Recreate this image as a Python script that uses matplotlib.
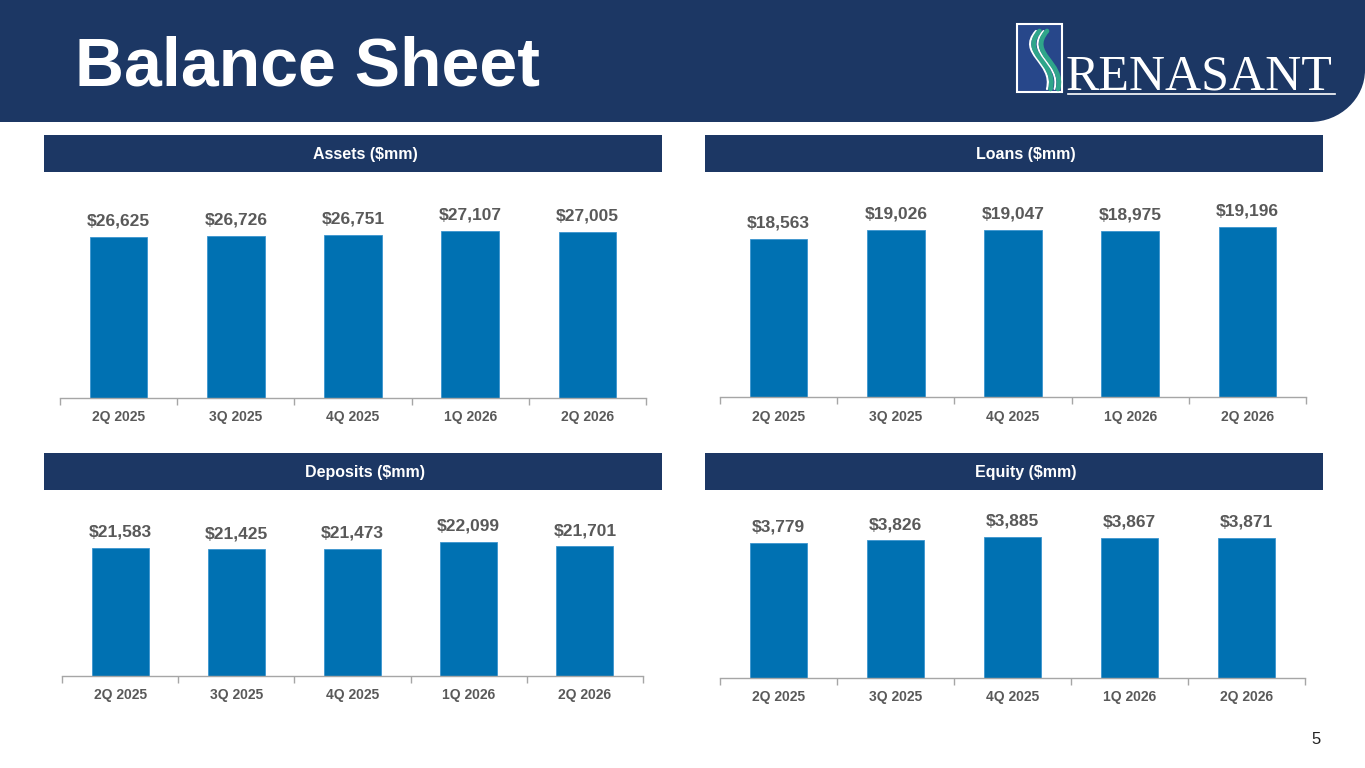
import matplotlib
matplotlib.use("Agg")
import matplotlib.pyplot as plt
from matplotlib.patches import Rectangle, PathPatch
from matplotlib.path import Path

plt.rcParams['font.family'] = ['Liberation Sans', 'DejaVu Sans']

# ---------------- data ----------------
quarters = ['2Q 2025', '3Q 2025', '4Q 2025', '1Q 2026', '2Q 2026']
assets = [26625, 26726, 26751, 27107, 27005]
loans = [18563, 19026, 19047, 18975, 19196]
deposits = [21583, 21425, 21473, 22099, 21701]
equity = [3779, 3826, 3885, 3867, 3871]

panel_titles = ['Assets ($mm)', 'Loans ($mm)', 'Deposits ($mm)', 'Equity ($mm)']
page_title = 'Balance Sheet'
brand = 'RENASANT'
page_number = '5'

NAVY = '#1C3764'
BAR = '#0071B2'
GRAY = '#595959'
AXIS = '#A6A6A6'

W, H = 1365, 768
fig = plt.figure(figsize=(W / 100, H / 100), dpi=100)
fig.patch.set_facecolor('white')

# ---------------- overlay for decorations (pixel coords) ----------------
ov = fig.add_axes([0, 0, 1, 1], zorder=0)
ov.set_xlim(0, W)
ov.set_ylim(H, 0)
ov.axis('off')

# header band with rounded lower-right corner
rx, ry = 55, 52
yb = 122
verts = [(0, 0), (W, 0), (W, yb - ry),
         (W, yb - ry + 0.55 * ry), (W - rx + 0.55 * rx, yb), (W - rx, yb),
         (0, yb), (0, 0)]
codes = [Path.MOVETO, Path.LINETO, Path.LINETO,
         Path.CURVE4, Path.CURVE4, Path.CURVE4,
         Path.LINETO, Path.CLOSEPOLY]
ov.add_patch(PathPatch(Path(verts, codes), facecolor=NAVY, edgecolor='none'))

ov.text(75, 68, page_title, color='white', fontsize=49, fontweight='bold',
        ha='left', va='center')

# logo box
ov.add_patch(Rectangle((1017, 24), 45, 68, facecolor='#27478A', edgecolor='white', lw=1.5))
def swoosh(dx, color, lw):
    v = [(1036 + dx, 31), (1016 + dx, 54), (1054 + dx, 62), (1047 + dx, 89)]
    c = [Path.MOVETO, Path.CURVE4, Path.CURVE4, Path.CURVE4]
    ov.add_patch(PathPatch(Path(v, c), facecolor='none', edgecolor=color, lw=lw,
                           capstyle='round'))
swoosh(0, 'white', 1.6)
swoosh(3.5, '#2FA58A', 3.4)
swoosh(7.5, 'white', 1.4)
swoosh(11, '#2FA58A', 3.4)

ov.text(1066, 89, brand, color='white', fontsize=36, family='Liberation Serif',
        ha='left', va='baseline')
ov.plot([1068, 1335], [94, 94], color='white', lw=1.2)

# panel header bars
headers = [(44, 135), (705, 135), (44, 453), (705, 453)]
for (hx, hy), t in zip(headers, panel_titles):
    ov.add_patch(Rectangle((hx, hy), 618, 37, facecolor=NAVY, edgecolor='none'))
    ov.text(hx + 321, hy + 19, t, color='white', fontsize=11.5, fontweight='bold',
            ha='center', va='center')

ov.text(1316, 740, page_number, color='#222222', fontsize=12, ha='center', va='center')

# ---------------- charts ----------------
def px_axes(x0, x1, ytop, ybase):
    return fig.add_axes([x0 / W, 1 - ybase / H, (x1 - x0) / W, (ybase - ytop) / H], zorder=2)

charts = [
    (px_axes(60, 646, 190, 398), assets, (14000, 30300)),
    (px_axes(720, 1306, 190, 397), loans, (10000, 21200)),
    (px_axes(62, 643, 508, 676), deposits, (10000, 25170)),
    (px_axes(720, 1305, 508, 678), equity, (1500, 4375)),
]

for ax, vals, ylim in charts:
    ax.set_facecolor('none')
    x = list(range(len(quarters)))
    ax.bar(x, vals, width=0.49, color=BAR, edgecolor='#3C95CF', linewidth=0.6,
           bottom=0, zorder=2)
    ax.set_ylim(*ylim)
    ax.set_xlim(-0.5, len(quarters) - 0.5)
    for xi, v in zip(x, vals):
        ax.annotate(f'${v:,}', (xi, v), xytext=(0, 6), textcoords='offset points',
                    ha='center', va='bottom', fontsize=12.5, fontweight='bold',
                    color=GRAY)
    for s in ['top', 'right', 'left']:
        ax.spines[s].set_visible(False)
    ax.spines['bottom'].set_color(AXIS)
    ax.spines['bottom'].set_linewidth(1.0)
    ax.set_yticks([])
    ax.set_xticks([i - 0.5 for i in range(len(quarters) + 1)])
    ax.set_xticklabels([])
    ax.tick_params(axis='x', which='major', direction='out', length=5, color=AXIS, width=1.0)
    ax.set_xticks(x, minor=True)
    ax.set_xticklabels(quarters, minor=True)
    ax.tick_params(axis='x', which='minor', length=0, pad=9, labelsize=10,
                   labelcolor=GRAY)
    for lab in ax.get_xticklabels(minor=True):
        lab.set_fontweight('bold')

fig.savefig('out.png', dpi=100, facecolor='white')
